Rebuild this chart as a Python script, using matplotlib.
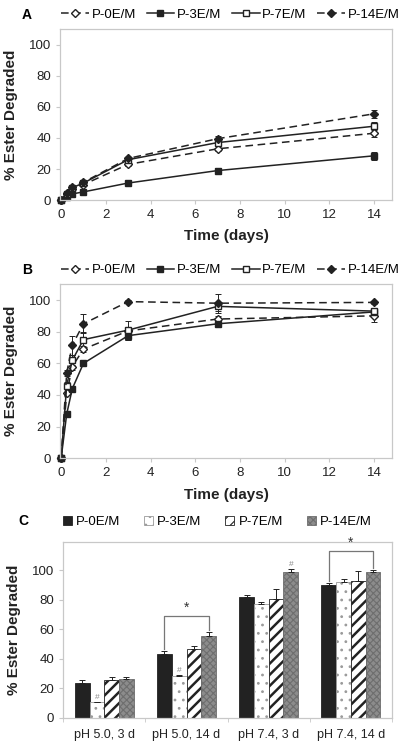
import numpy as np
import matplotlib
matplotlib.use('Agg')
from matplotlib import pyplot as plt
from matplotlib.lines import Line2D
from matplotlib.patches import Patch

# Time points (days)
times = [0, 0.25, 0.5, 1, 3, 7, 14]
series = ['P-0E/M', 'P-3E/M', 'P-7E/M', 'P-14E/M']

# Panel A: pH 5.0
a_p0 = [0, 4, 7, 10, 23, 33, 43]
a_p3 = [0, 2, 4, 5.3, 11, 19, 28.5]
a_p7 = [0, 4, 8, 11, 26, 37, 47.5]
a_p14 = [0, 4.3, 8.5, 11.5, 26.8, 39.5, 55.5]
a_err = [0, 0.5, 0.5, 0.8, 1, 1.5, 2.5]

# Panel B: pH 7.4
b_p0 = [0, 41, 58, 69, 80.5, 88, 90]
b_p3 = [0, 28, 44, 60, 77.5, 85, 92.5]
b_p7 = [0, 46, 62, 75, 81, 96, 93]
b_p14 = [0, 54, 71.5, 85, 99, 98, 98.5]
b_err_p0 = [0, 1, 2, 2, 2, 2, 4]
b_err_p3 = [0, 1, 1, 1, 3, 1, 1]
b_err_p7 = [0, 2, 3, 5, 6, 3, 2]
b_err_p14 = [0, 2, 6, 6, 1, 6, 1]

# Panel C: bars
groups = ['pH 5.0, 3 d', 'pH 5.0, 14 d', 'pH 7.4, 3 d', 'pH 7.4, 14 d']
c_p0 = [23.5, 43.5, 82, 90]
c_p3 = [10.5, 28.5, 77, 92]
c_p7 = [25.5, 47, 80.5, 92.5]
c_p14 = [26.5, 55.5, 99, 99]
c_err_p0 = [2, 2, 1, 1.5]
c_err_p3 = [0.5, 0.5, 1.5, 2]
c_err_p7 = [2, 2, 7, 7]
c_err_p14 = [1.5, 3, 2, 1.5]

plt.rcParams['font.family'] = ['Liberation Sans', 'DejaVu Sans']
plt.rcParams['hatch.linewidth'] = 0.8

fig = plt.figure(figsize=(4, 7.44), dpi=100)
frame_col = '#c8c8c8'
ink = '#222222'
tick_fs = 9.5
legend_fs = 9.5
label_fs = 11


def style_axes(ax):
    for s in ax.spines.values():
        s.set_color(frame_col)
        s.set_linewidth(0.9)
    ax.tick_params(axis='both', colors=frame_col, labelcolor=ink,
                   labelsize=tick_fs, length=3, direction='out')
    ax.set_ylabel('% Ester Degraded', fontsize=label_fs, fontweight='bold',
                  color=ink, labelpad=8)


def line_panel(ax, p0, p3, p7, p14, errs, label):
    styles = [
        (p0, dict(ls='--', marker='D', mfc='white', ms=4, dashes=(5, 3))),
        (p3, dict(ls='-', marker='s', mfc=ink, ms=4.5)),
        (p7, dict(ls='-', marker='s', mfc='white', ms=5)),
        (p14, dict(ls='--', marker='D', mfc=ink, ms=4.5, dashes=(5, 3))),
    ]
    handles = []
    for (vals, kw), err, name in zip(styles, errs, series):
        ax.errorbar(times, vals, yerr=err, color=ink, mec=ink,
                    lw=1.1, elinewidth=0.7, capsize=2, capthick=0.7,
                    clip_on=False, **kw)
        handles.append(Line2D([0], [0], color=ink, mec=ink,
                              lw=1.1, label=name, **kw))
    ax.set_xlim(-0.05, 14.8)
    ax.set_ylim(0, 110)
    ax.set_xticks(range(0, 15, 2))
    ax.set_yticks(range(0, 101, 20))
    style_axes(ax)
    ax.set_xlabel('Time (days)', fontsize=label_fs, fontweight='bold',
                  color=ink, labelpad=6)
    ax.legend(handles=handles, ncol=4, frameon=False, fontsize=legend_fs,
              loc='lower left', bbox_to_anchor=(-0.02, 1.0),
              handlelength=2.1, handletextpad=0.2, columnspacing=0.8,
              borderaxespad=0.4, borderpad=0.2)
    ax.text(-0.1, 1.08, label, transform=ax.transAxes, fontsize=10,
            fontweight='bold', ha='center', va='center')


axA = fig.add_axes([0.15, 0.731, 0.83, 0.230])
line_panel(axA, a_p0, a_p3, a_p7, a_p14,
           [a_err, a_err, a_err, a_err], 'A')

axB = fig.add_axes([0.15, 0.384, 0.83, 0.234])
line_panel(axB, b_p0, b_p3, b_p7, b_p14,
           [b_err_p0, b_err_p3, b_err_p7, b_err_p14], 'B')

# Panel C
axC = fig.add_axes([0.158, 0.035, 0.822, 0.236])
x = np.arange(len(groups))
w = 0.18
bar_styles = [
    dict(facecolor=ink, edgecolor=ink),
    dict(facecolor='white', edgecolor='#9a9a9a', hatch='..'),
    dict(facecolor='white', edgecolor=ink, hatch='///'),
    dict(facecolor='#8c8c8c', edgecolor='#6e6e6e', hatch='xxxxx'),
]
vals_c = [c_p0, c_p3, c_p7, c_p14]
errs_c = [c_err_p0, c_err_p3, c_err_p7, c_err_p14]
handles = []
for i, (vals, errs, st, name) in enumerate(zip(vals_c, errs_c, bar_styles, series)):
    pos = x + (i - 1.5) * w
    bars = axC.bar(pos, vals, w, lw=0.6, label=name, **st)
    if i == 2:
        for b in bars:
            b.set_hatch_linewidth(1.8)
    axC.errorbar(pos, vals, yerr=[np.zeros(len(errs)), errs], fmt='none',
                 ecolor=ink, elinewidth=0.7, capsize=2, capthick=0.7)
    h = Patch(lw=0.6, label=name, **st)
    if i == 2:
        h.set_hatch_linewidth(1.2)
    handles.append(h)

# significance markers
for gi, si in [(0, 1), (1, 1), (2, 3)]:
    axC.text(gi + (si - 1.5) * w, vals_c[si][gi] + errs_c[si][gi] + 0.5, '#',
             color='#888888', fontsize=6, ha='center', va='bottom')
for gi, top in [(1, 69), (3, 113)]:
    x0 = gi - 1.5 * w
    x1 = gi + 1.5 * w
    y0 = c_p0[gi] + c_err_p0[gi] + 1
    y1 = c_p14[gi] + c_err_p14[gi] + 1
    axC.plot([x0, x0, x1, x1], [y0, top, top, y1], color='#777777', lw=0.9)
    axC.text(gi, top + 1, '*', fontsize=10, ha='center', va='bottom',
             color='#333333')

axC.set_xlim(-0.5, 3.5)
axC.set_ylim(0, 119)
axC.set_yticks(range(0, 101, 20))
axC.set_xticks(x)
axC.set_xticklabels(groups)
axC.set_xticks(np.arange(-0.5, 4, 1), minor=True)
style_axes(axC)
axC.tick_params(axis='x', which='major', length=0, pad=8, labelsize=9)
axC.tick_params(axis='x', which='minor', length=3, colors=frame_col)
axC.legend(handles=handles, ncol=4, frameon=False, fontsize=legend_fs,
           loc='lower left', bbox_to_anchor=(-0.03, 1.03),
           handlelength=0.7, handleheight=0.7, handletextpad=0.3,
           columnspacing=1.8, borderaxespad=0.3)
axC.text(-0.12, 1.12, 'C', transform=axC.transAxes, fontsize=10,
         fontweight='bold', ha='center', va='center')

plt.savefig('out.png', dpi=100)
